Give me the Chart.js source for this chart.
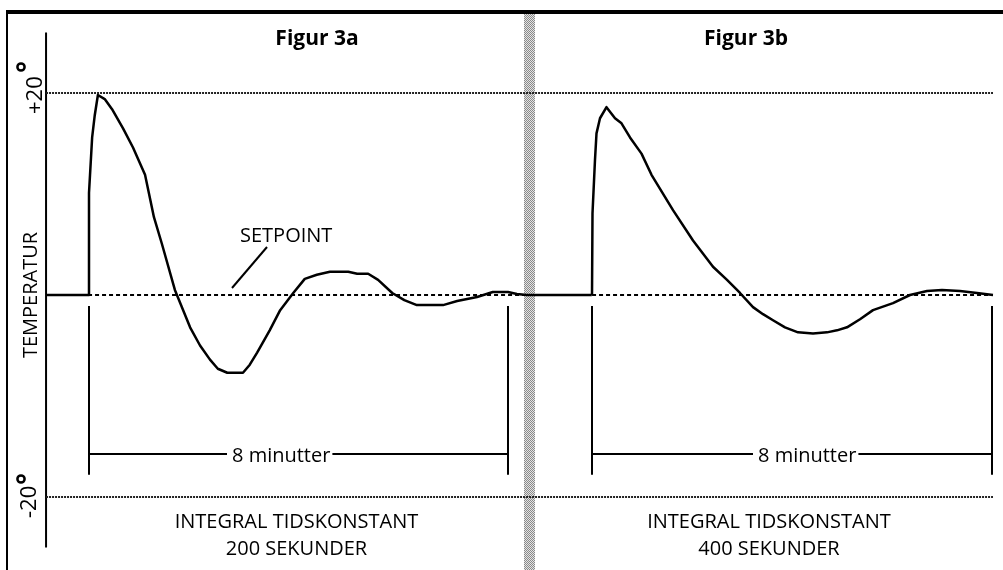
<!DOCTYPE html>
<html lang="da">
<head>
<meta charset="UTF-8" />
<title>Figur 3a / 3b - integral tidskonstant</title>
<script src="https://cdn.jsdelivr.net/npm/chart.js"></script>
<style>
  body { margin: 0; background: #fff; }
  canvas { display: block; }
</style>
</head>
<body>
<canvas id="fig" width="1003" height="570"></canvas>
<script>
// Figur 3a: integral tidskonstant 200 sekunder (tid i minutter, grader fra setpoint)
const timeA = [-0.8, 0, 0, 0.06, 0.11, 0.17, 0.3, 0.44, 0.65, 0.84, 1.07, 1.24, 1.39, 1.64, 1.93, 2.12, 2.31, 2.46, 2.64, 2.94, 3.07, 3.21, 3.45, 3.65, 3.9, 4.12, 4.35, 4.6, 4.95, 5.12, 5.33, 5.52, 5.79, 6.02, 6.26, 6.76, 7.03, 7.41, 7.71, 8.0, 8.17, 8.36, 9.6];
const tempA = [0, 0, 10.1, 15.6, 17.8, 19.8, 19.4, 18.4, 16.5, 14.6, 11.9, 7.7, 5.1, 0.5, -3.2, -5.0, -6.4, -7.3, -7.7, -7.7, -6.9, -5.7, -3.5, -1.5, 0.2, 1.6, 2.0, 2.3, 2.3, 2.1, 2.1, 1.5, 0.2, -0.5, -1.0, -1.0, -0.6, -0.2, 0.3, 0.3, 0.1, 0, 0];

// Figur 3b: integral tidskonstant 400 sekunder
const timeB = [0, 0.01, 0.06, 0.09, 0.16, 0.29, 0.46, 0.59, 0.76, 0.99, 1.19, 1.62, 2.02, 2.42, 2.7, 2.96, 3.22, 3.42, 3.62, 3.86, 4.12, 4.42, 4.7, 4.9, 5.1, 5.36, 5.62, 6.02, 6.36, 6.7, 7.0, 7.36, 7.7, 8.02];
const tempB = [0, 8.1, 13.4, 16.0, 17.5, 18.6, 17.5, 17.0, 15.6, 14.0, 11.9, 8.4, 5.4, 2.8, 1.5, 0.2, -1.2, -1.9, -2.5, -3.2, -3.7, -3.8, -3.7, -3.5, -3.2, -2.4, -1.5, -0.8, 0, 0.4, 0.5, 0.4, 0.2, 0];

const setpoint = 0;
const limitHigh = 20;
const limitLow = -20;
const spanMinutes = 8;
const bracketTop = -1.1;
const bracketBottom = -17.8;
const bracketBar = -15.75;
const axisTime = -0.82;
const axisTop = 26.0;
const axisBottom = -25.0;
const refStart = -0.82;
const refEnd = 17.26;

const titles = ['Figur 3a', 'Figur 3b'];
const captions = [['INTEGRAL TIDSKONSTANT', '200 SEKUNDER'], ['INTEGRAL TIDSKONSTANT', '400 SEKUNDER']];
const spanLabel = '8 minutter';
const yTicks = ['+20', '-20'];
const yTitle = 'TEMPERATUR';
const setpointLabel = 'SETPOINT';

const FONT = '"Open Sans", "DejaVu Sans", sans-serif';

function pts(xs, ys) {
  return xs.map((x, i) => ({ x: x, y: ys[i] }));
}

function bracket(span) {
  return [
    { x: 0, y: bracketTop }, { x: 0, y: bracketBottom }, { x: 0, y: null },
    { x: 0, y: bracketBar }, { x: span, y: bracketBar }, { x: span, y: null },
    { x: span, y: bracketTop }, { x: span, y: bracketBottom }
  ];
}

// dithered grey band between the two figures
function stipple(ctx) {
  const c = document.createElement('canvas');
  c.width = 2; c.height = 2;
  const p = c.getContext('2d');
  p.fillStyle = '#e4e4e4'; p.fillRect(0, 0, 2, 2);
  p.fillStyle = '#8a8a8a'; p.fillRect(0, 0, 1, 1); p.fillRect(1, 1, 1, 1);
  return ctx.createPattern(c, 'repeat');
}

const decor = {
  id: 'decor',
  beforeDatasetsDraw(chart) {
    const ctx = chart.ctx;
    ctx.save();
    ctx.fillStyle = '#fff';
    ctx.fillRect(0, 0, chart.width, chart.height);
    // frame
    ctx.fillStyle = '#000';
    ctx.fillRect(6, 10, chart.width - 6, 4);
    ctx.fillRect(6, 10, 2, chart.height - 10);
    // divider
    ctx.fillStyle = stipple(ctx);
    ctx.fillRect(524, 14, 11, chart.height - 14);
    ctx.restore();
  },
  afterDatasetsDraw(chart) {
    const ctx = chart.ctx;
    const xa = chart.scales.xa, xb = chart.scales.xb, y = chart.scales.y;
    ctx.save();
    ctx.fillStyle = '#000';
    ctx.strokeStyle = '#000';

    // titles
    ctx.font = 'bold 21px ' + FONT;
    ctx.textAlign = 'center';
    ctx.textBaseline = 'alphabetic';
    ctx.fillText(titles[0], 317, 45);
    ctx.fillText(titles[1], 746, 45);

    // captions under each figure
    ctx.font = '20px ' + FONT;
    const capA = (xa.getPixelForValue(0) + xa.getPixelForValue(spanMinutes)) / 2 - 2;
    const capB = (xb.getPixelForValue(0) + xb.getPixelForValue(spanMinutes)) / 2 - 23;
    ctx.fillText(captions[0][0], capA, 528);
    ctx.fillText(captions[0][1], capA, 555);
    ctx.fillText(captions[1][0], capB, 528);
    ctx.fillText(captions[1][1], capB, 555);

    // span labels, cut into the bracket bar
    ctx.textAlign = 'left';
    const barY = y.getPixelForValue(bracketBar);
    [232, 758].forEach(left => {
      const w = ctx.measureText(spanLabel).width;
      ctx.fillStyle = '#fff';
      ctx.fillRect(left - 5, barY - 4, w + 7, 8);
      ctx.fillStyle = '#000';
      ctx.fillText(spanLabel, left, barY + 8);
    });

    // setpoint label and leader
    ctx.fillText(setpointLabel, 240, 242);
    ctx.lineWidth = 2;
    ctx.beginPath();
    ctx.moveTo(267, 247);
    ctx.lineTo(232, 288);
    ctx.stroke();

    // rotated y labels
    const rot = (text, x, yy, align) => {
      ctx.save();
      ctx.translate(x, yy);
      ctx.rotate(-Math.PI / 2);
      ctx.textAlign = align;
      ctx.fillText(text, 0, 0);
      ctx.restore();
    };
    rot(yTitle, 37, y.getPixelForValue(setpoint), 'center');
    ctx.font = '22px ' + FONT;
    rot(yTicks[0], 42, 114, 'left');
    rot(yTicks[1], 36, 518, 'left');

    // degree rings
    ctx.lineWidth = 2.5;
    [[21, 67], [21, 479]].forEach(([cx, cy]) => {
      ctx.beginPath();
      ctx.arc(cx, cy, 3.6, 0, Math.PI * 2);
      ctx.stroke();
    });
    ctx.restore();
  }
};

const black = '#000';
const refStyle = { borderColor: '#222', borderWidth: 2, borderDash: [2, 1], pointRadius: 0, xAxisID: 'xa' };

new Chart(document.getElementById('fig'), {
  type: 'line',
  data: {
    datasets: [
      Object.assign({ label: '+20', data: [{ x: refStart, y: limitHigh }, { x: refEnd, y: limitHigh }] }, refStyle),
      Object.assign({ label: '-20', data: [{ x: refStart, y: limitLow }, { x: refEnd, y: limitLow }] }, refStyle),
      { label: 'setpoint', data: [{ x: refStart, y: setpoint }, { x: refEnd, y: setpoint }],
        borderColor: black, borderWidth: 2, borderDash: [4, 3], pointRadius: 0, xAxisID: 'xa' },
      { label: 'akse', data: [{ x: axisTime, y: axisTop }, { x: axisTime, y: axisBottom }],
        borderColor: black, borderWidth: 2, pointRadius: 0, xAxisID: 'xa' },
      { label: 'span 3a', data: bracket(spanMinutes), borderColor: black, borderWidth: 2,
        pointRadius: 0, spanGaps: false, xAxisID: 'xa' },
      { label: 'span 3b', data: bracket(spanMinutes), borderColor: black, borderWidth: 2,
        pointRadius: 0, spanGaps: false, xAxisID: 'xb' },
      { label: '200 sekunder', data: pts(timeA, tempA), borderColor: black, borderWidth: 2.5,
        pointRadius: 0, tension: 0, borderJoinStyle: 'round', xAxisID: 'xa' },
      { label: '400 sekunder', data: pts(timeB, tempB), borderColor: black, borderWidth: 2.5,
        pointRadius: 0, tension: 0, borderJoinStyle: 'round', xAxisID: 'xb' }
    ]
  },
  options: {
    responsive: false,
    animation: false,
    layout: { padding: 0 },
    plugins: { legend: { display: false }, tooltip: { enabled: false } },
    scales: {
      xa: { type: 'linear', display: false, min: -1.6993, max: 17.4511 },
      xb: { type: 'linear', display: false, min: -11.84, max: 8.22 },
      y: { type: 'linear', display: false, min: -27.228, max: 29.208 }
    }
  },
  plugins: [decor]
});
</script>
</body>
</html>
